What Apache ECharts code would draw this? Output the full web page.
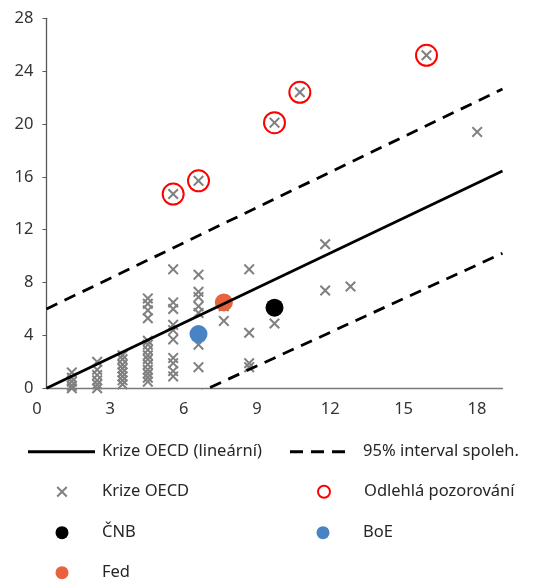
<!DOCTYPE html>
<html>
<head>
<meta charset="utf-8">
<script src="https://cdn.jsdelivr.net/npm/echarts@6/dist/echarts.min.js"></script>
<style>
html,body{margin:0;padding:0;background:#fff;}
#chart{width:540px;height:580px;}
</style>
</head>
<body>
<div id="chart"></div>
<script>
// ---- data ----
const xTicks = [0, 3, 6, 9, 12, 15, 18];
const yTicks = [0, 4, 8, 12, 16, 20, 24, 28];

// OECD crises: [x, y]
const oecdCrises = [
  [1,1.2],[1,0.8],[1,0.5],[1,0.2],[1,0.0],
  [2,2.0],[2,1.4],[2,1.0],[2,0.6],[2,0.3],[2,0.0],
  [3,2.5],[3,2.2],[3,1.8],[3,1.5],[3,1.2],[3,0.9],[3,0.6],[3,0.3],
  [4,6.8],[4,6.4],[4,5.9],[4,5.3],[4,3.6],[4,3.3],[4,2.9],[4,2.5],[4,2.2],[4,1.8],[4,1.4],[4,1.1],[4,0.8],[4,0.5],
  [5,14.7],[5,9.0],[5,6.5],[5,6.0],[5,4.8],[5,4.4],[5,3.7],[5,2.3],[5,1.9],[5,1.3],[5,0.9],
  [6,15.7],[6,8.6],[6,7.3],[6,6.9],[6,6.2],[6,5.7],[6,3.3],[6,1.6],
  [7,6.2],[7,5.1],
  [8,9.0],[8,4.2],[8,1.9],[8,1.6],
  [9,20.1],[9,4.9],
  [10,22.4],
  [11,10.9],[11,7.4],
  [12,7.7],
  [15,25.2],
  [17,19.4]
];
const outliers = [[5,14.7],[6,15.7],[9,20.1],[10,22.4],[15,25.2]];
const cnb = [[9,6.1]];
const boe = [[6,4.1]];
const fed = [[7,6.5]];

// fitted line and 95% band, end points
const fitLine = [[0,0],[18,16.45]];
const bandUpper = [[0,6.0],[18,22.65]];
const bandLower = [[0,-5.62],[18,10.22]];

const names = {
  fit: 'Krize OECD (lineární)',
  band: '95% interval spoleh.',
  oecd: 'Krize OECD',
  out: 'Odlehlá pozorování',
  cnb: 'ČNB',
  boe: 'BoE',
  fed: 'Fed'
};

const FONT = 'Noto Sans';
const FS = 16.5;
const xPath = 'path://M0,1.3L1.3,0L5,3.7L8.7,0L10,1.3L6.3,5L10,8.7L8.7,10L5,6.3L1.3,10L0,8.7L3.7,5Z';
const solidIcon = 'path://M0,0H67V3H0Z';
const dashIcon = 'path://M0,0H13V3H0ZM21,0H34V3H21ZM42,0H55V3H42Z';
const GRAY = '#808080';
const RED = '#ff0000';
const BLUE = '#4a83c4';
const ORANGE = '#e8623d';
const TXT = '#262626';

// layout (px)
const GRID_L = 46.5, GRID_R = 37.5, GRID_T = 18.3, GRID_B = 191.7;
// in the reference the x tick labels sit on a slightly tighter spacing than the plotted scale
const LABEL_X0 = 37, LABEL_STEP = 24.44;      // px position of label "0", px per unit for labels
const PLOT_STEP = (540 - GRID_L - GRID_R) / (xTicks[xTicks.length-1] - xTicks[0]);

const xRich = {};
xTicks.forEach(function (v) {
  const want = LABEL_X0 + v * LABEL_STEP;
  const tick = GRID_L + v * PLOT_STEP;
  const shift = want - tick; // negative -> move left
  xRich['t' + v] = {
    fontFamily: FONT, fontSize: FS, color: '#333',
    padding: shift < 0 ? [0, -2 * shift, 0, 0] : [0, 0, 0, 2 * shift]
  };
});

const chart = echarts.init(document.getElementById('chart'), null, {renderer:'canvas'});

function legItem(name, icon, w, h, style, left, tx, cy) {
  return {
    data: [{name: name, icon: icon, itemStyle: style}],
    left: left,
    top: cy - 10,
    itemWidth: w,
    itemHeight: h,
    selectedMode: false,
    padding: 0,
    textStyle: {fontFamily: FONT, fontSize: FS, color: TXT, lineHeight: 20,
                padding: [0, 0, 0, tx - (left + w) - 5]}
  };
}

chart.setOption({
  animation: false,
  backgroundColor: '#fff',
  grid: {left: GRID_L, right: GRID_R, top: GRID_T, bottom: GRID_B, containLabel: false},
  xAxis: {
    type: 'value', min: xTicks[0], max: xTicks[xTicks.length-1], interval: 3,
    axisLine: {show: true, onZero: false, lineStyle: {color: '#7a7a7a', width: 1.3}},
    axisTick: {show: false},
    splitLine: {show: false},
    axisLabel: {
      margin: 12, fontFamily: FONT, fontSize: FS, color: '#333',
      formatter: function (v) { return '{t' + v + '|' + v + '}'; },
      rich: xRich
    }
  },
  yAxis: {
    type: 'value', min: yTicks[0], max: yTicks[yTicks.length-1], interval: 4,
    axisLine: {show: true, onZero: false, lineStyle: {color: '#595959', width: 1.3}},
    axisTick: {show: true, inside: false, length: 4, lineStyle: {color: '#595959'}},
    splitLine: {show: false},
    axisLabel: {margin: 13, fontFamily: FONT, fontSize: FS, color: '#333'}
  },
  legend: [
    legItem(names.fit, solidIcon, 67, 3, {color: '#000', opacity: 1}, 28, 102, 451.7),
    legItem(names.band, dashIcon, 55, 3, {color: '#000', opacity: 1}, 290, 363, 451.7),
    legItem(names.oecd, xPath, 11, 11, {color: GRAY, opacity: 1}, 62 - 5.5, 102, 491.7),
    legItem(names.out, 'circle', 12, 12, {color: '#fff', borderColor: RED, borderWidth: 2, opacity: 1}, 323 - 6, 363, 491.7),
    legItem(names.cnb, 'circle', 13, 13, {color: '#000', opacity: 1}, 62 - 6.5, 102, 532.7),
    legItem(names.boe, 'circle', 13, 13, {color: BLUE, opacity: 1}, 323 - 6.5, 363, 532.7),
    legItem(names.fed, 'circle', 13, 13, {color: ORANGE, opacity: 1}, 62 - 6.5, 102, 572.7)
  ],
  series: [
    {
      name: names.oecd, type: 'scatter', data: oecdCrises,
      symbol: xPath, symbolSize: 11,
      itemStyle: {color: GRAY, opacity: 1}
    },
    {
      name: names.fit, type: 'line', data: fitLine, symbol: 'none', clip: true,
      itemStyle: {color: '#000'},
      lineStyle: {color: '#000', width: 2.8, type: 'solid'}
    },
    {
      name: names.band, type: 'line', data: bandUpper, symbol: 'none', clip: true,
      itemStyle: {color: '#000'},
      lineStyle: {color: '#000', width: 2.8, type: [12, 8]}
    },
    {
      name: names.band, type: 'line', data: bandLower, symbol: 'none', clip: true,
      itemStyle: {color: '#000'},
      lineStyle: {color: '#000', width: 2.8, type: [12, 8]}
    },
    {
      name: names.out, type: 'scatter', data: outliers,
      symbol: 'circle', symbolSize: 21,
      itemStyle: {color: 'rgba(0,0,0,0)', borderColor: RED, borderWidth: 2, opacity: 1}
    },
    {
      name: names.cnb, type: 'scatter', data: cnb, symbol: 'circle', symbolSize: 18,
      itemStyle: {color: '#000', opacity: 1}
    },
    {
      name: names.boe, type: 'scatter', data: boe, symbol: 'circle', symbolSize: 18,
      itemStyle: {color: BLUE, opacity: 1}
    },
    {
      name: names.fed, type: 'scatter', data: fed, symbol: 'circle', symbolSize: 18,
      itemStyle: {color: ORANGE, opacity: 1}
    }
  ]
});
</script>
</body>
</html>
